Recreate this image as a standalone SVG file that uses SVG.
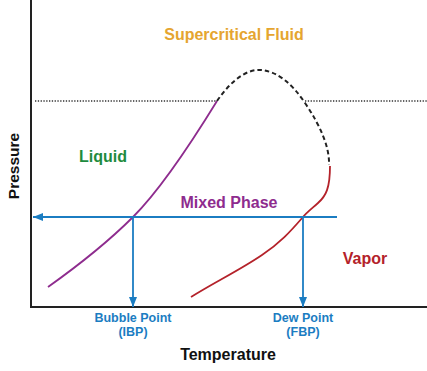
<svg xmlns="http://www.w3.org/2000/svg" width="427" height="371" viewBox="0 0 427 371">
<style>
.lbl{font-family:"Liberation Sans",Arial,sans-serif;font-weight:bold;text-anchor:middle}
.big{font-size:16px}
.sm{font-size:12.5px;fill:#1B7DC2}
.axis{stroke:#222;stroke-width:2;fill:none}
.blue{stroke:#1B7DC2;stroke-width:1.8;fill:none}
</style>
<defs>
<marker id="ah" viewBox="0 0 10 8" refX="10" refY="4" markerWidth="10" markerHeight="8" markerUnits="userSpaceOnUse" orient="auto">
<path d="M0,0 L10,4 L0,8 Z" fill="#1B7DC2"/>
</marker>
</defs>
<rect width="427" height="371" fill="#fff"/>
<g id="axes">
<path class="axis" d="M31,0 V307 H427"/>
</g>
<g id="connectors">
<path d="M35,101 H217 M305,101 H427" stroke="#333" stroke-width="1.3" stroke-dasharray="1.3 1.5" fill="none"/>
<path d="M217,101 Q240,68 262,70 Q285,73 305,103 Q330,140 329,165" stroke="#222" stroke-width="2" stroke-dasharray="4.5 3" fill="none"/>
<path d="M48,287 Q100,250 133,217 T217,101" stroke="#8E2C8E" stroke-width="1.8" fill="none"/>
<path d="M330,166 C330,188 326,196 318,203 C310,210 306,213 303,217 C290,232 280,243 262,255 C240,270 215,282 191,297" stroke="#B4222A" stroke-width="1.8" fill="none"/>
<path class="blue" d="M337,217 H33" marker-end="url(#ah)"/>
<path class="blue" d="M133,217 V307" marker-end="url(#ah)"/>
<path class="blue" d="M303,217 V307" marker-end="url(#ah)"/>
</g>
<g id="supercritical"><text class="lbl big" x="234" y="40" fill="#E5A530">Supercritical Fluid</text></g>
<g id="liquid"><text class="lbl big" x="103" y="162" fill="#1E8B3E">Liquid</text></g>
<g id="mixed"><text class="lbl big" x="229" y="208" fill="#8E2C8E">Mixed Phase</text></g>
<g id="vapor"><text class="lbl big" x="365" y="264" fill="#B4222A">Vapor</text></g>
<g id="bubble"><text class="lbl sm" x="133" y="322">Bubble Point</text><text class="lbl sm" x="133" y="336">(IBP)</text></g>
<g id="dew"><text class="lbl sm" x="303" y="322">Dew Point</text><text class="lbl sm" x="303" y="336">(FBP)</text></g>
<g id="xlabel"><text class="lbl big" x="228" y="360" fill="#111">Temperature</text></g>
<g id="ylabel"><text class="lbl" font-size="15.5" transform="translate(19,166) rotate(-90)" fill="#111">Pressure</text></g>
</svg>
